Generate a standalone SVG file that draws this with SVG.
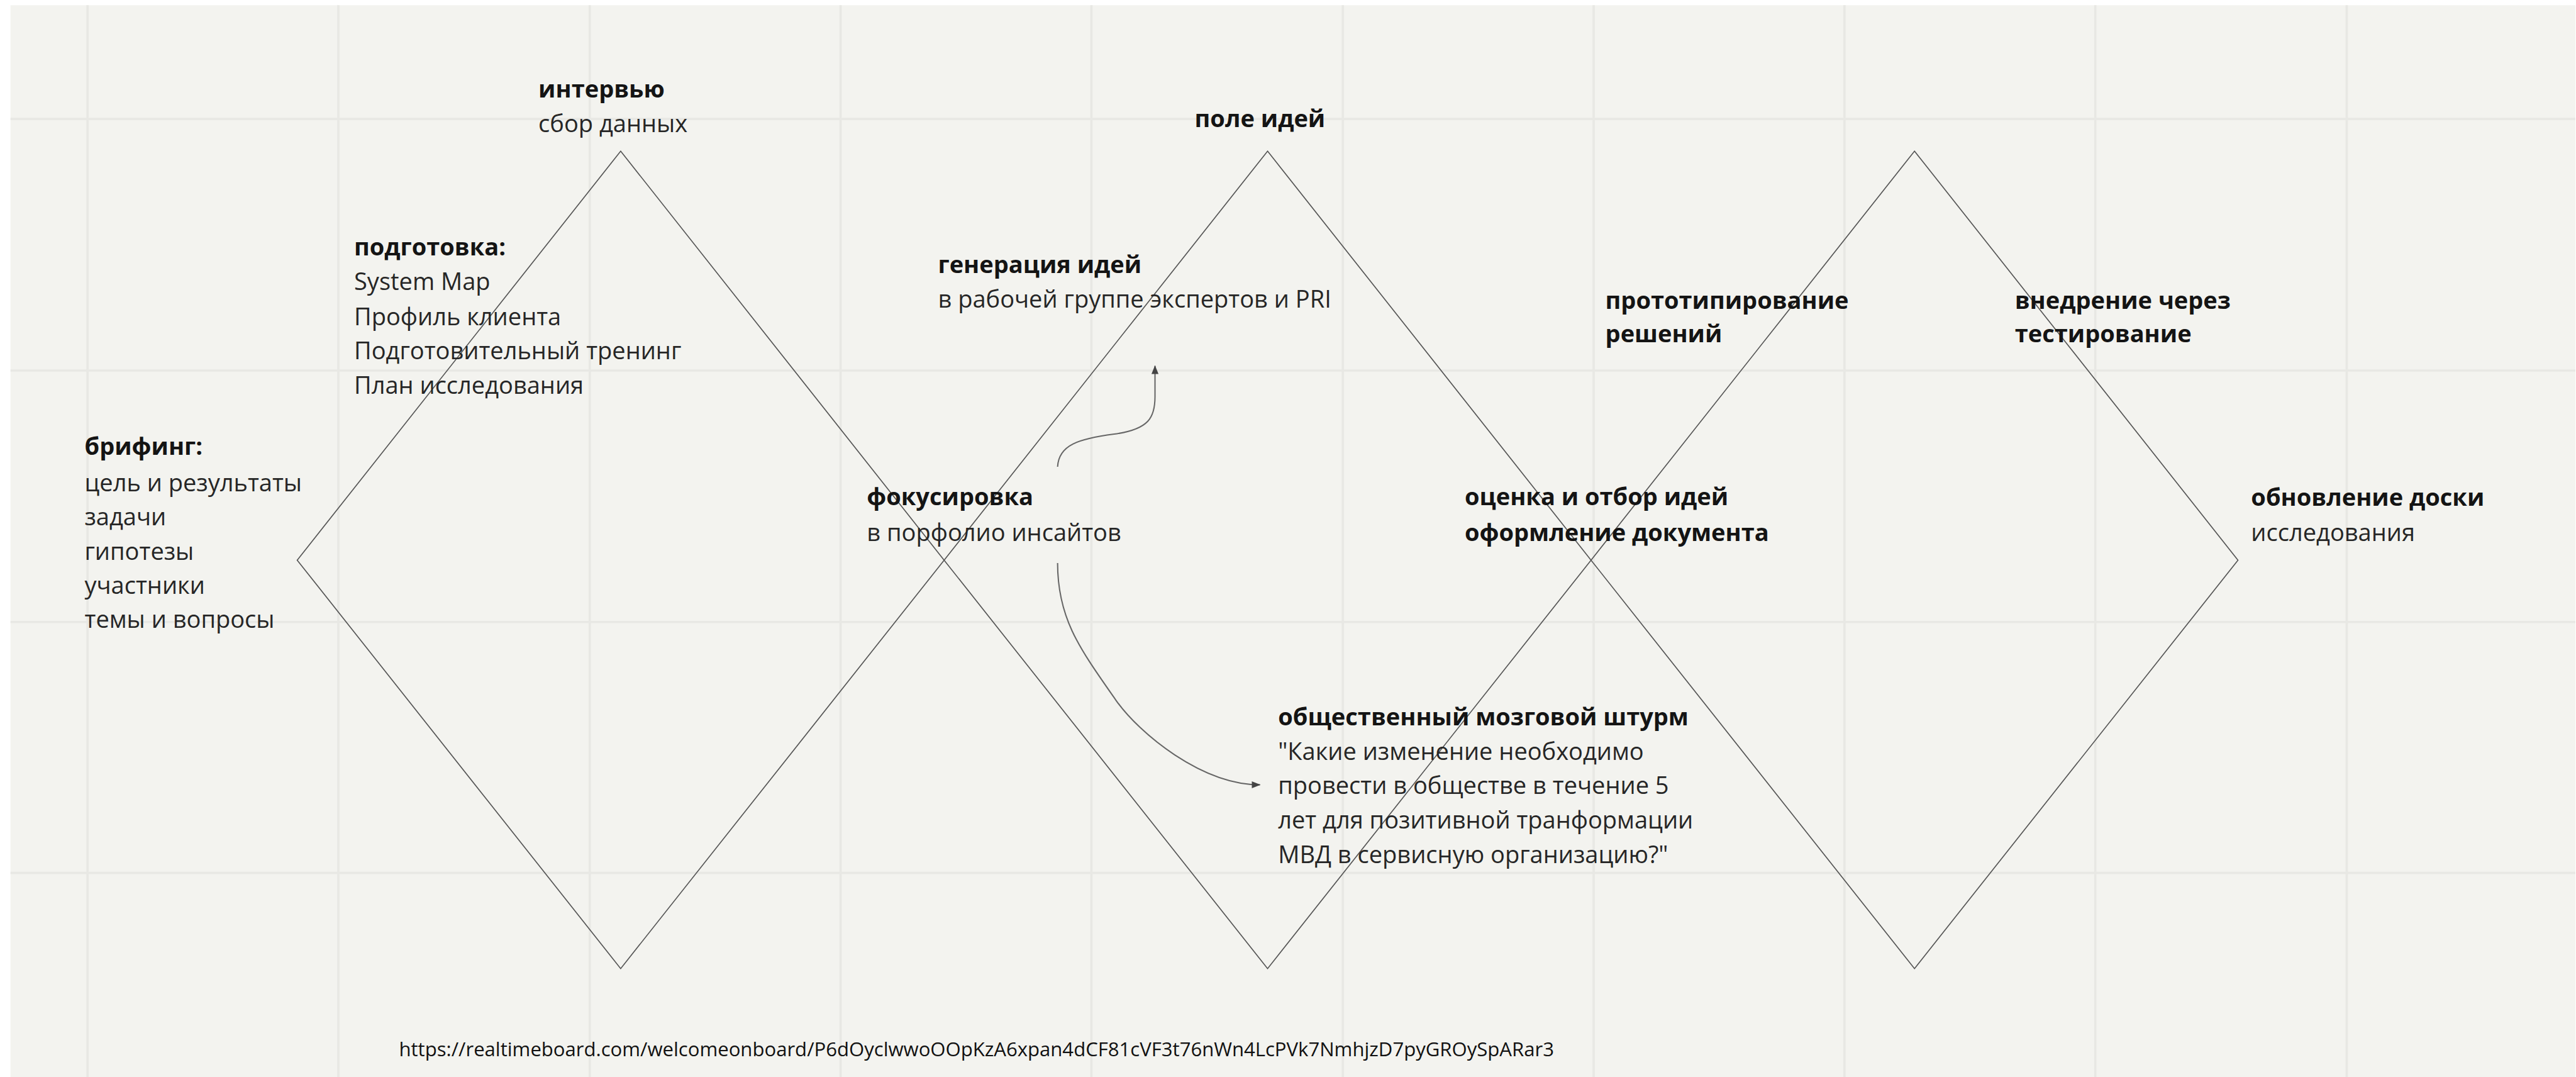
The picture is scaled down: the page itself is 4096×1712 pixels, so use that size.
<svg xmlns="http://www.w3.org/2000/svg" width="4096" height="1712" viewBox="0 0 4096 1712">
<defs>
<style>
.t{font-family:"Open Sans","Noto Sans","DejaVu Sans",sans-serif;font-size:41px;fill:#262626}
.b{font-weight:bold;fill:#141414}
.d{fill:none;stroke:#555;stroke-width:1.8}
.g{stroke:#e8e8e4;stroke-width:4}
.c{fill:none;stroke:#666;stroke-width:2.2}
.u{font-family:"Open Sans","Noto Sans","DejaVu Sans",sans-serif;font-size:33.6px;fill:#111}
</style>
<marker id="ah" markerUnits="userSpaceOnUse" markerWidth="16" markerHeight="16" viewBox="0 0 16 16" refX="14" refY="8" orient="auto">
<path d="M0,2 L15,8 L0,14 Z" fill="#444"/>
</marker>
</defs>
<rect width="4096" height="1712" fill="#ffffff"/>
<g transform="scale(0.927536)">
<rect x="18" y="9" width="4397" height="1837" fill="#f3f3ef"/>
<g id="grid">
<line class="g" x1="150" y1="9" x2="150" y2="1846"/>
<line class="g" x1="580" y1="9" x2="580" y2="1846"/>
<line class="g" x1="1011" y1="9" x2="1011" y2="1846"/>
<line class="g" x1="1441" y1="9" x2="1441" y2="1846"/>
<line class="g" x1="1871" y1="9" x2="1871" y2="1846"/>
<line class="g" x1="2302" y1="9" x2="2302" y2="1846"/>
<line class="g" x1="2732" y1="9" x2="2732" y2="1846"/>
<line class="g" x1="3162" y1="9" x2="3162" y2="1846"/>
<line class="g" x1="3592" y1="9" x2="3592" y2="1846"/>
<line class="g" x1="4023" y1="9" x2="4023" y2="1846"/>
<line class="g" x1="18" y1="204" x2="4415" y2="204"/>
<line class="g" x1="18" y1="635" x2="4415" y2="635"/>
<line class="g" x1="18" y1="1066" x2="4415" y2="1066"/>
<line class="g" x1="18" y1="1496" x2="4415" y2="1496"/>
</g>
<g id="diamond1"><polygon class="d" points="1064,259 1618.5,960 1064,1660 509.5,960"/></g>
<g id="diamond2"><polygon class="d" points="2173,259 2727.5,960 2173,1660 1618.5,960"/></g>
<g id="diamond3"><polygon class="d" points="3282,259 3836.5,960 3282,1660 2727.5,960"/></g>
<g id="connectors">
<path class="c" d="M1813,800 C1815,762 1850,752 1910,744 C1970,736 1980,715 1980,680 L1980,627" marker-end="url(#ah)"/>
<path class="c" d="M1813,965 C1813,1060 1850,1110 1913,1200 C1953,1257 2060,1345 2160,1345" marker-end="url(#ah)"/>
</g>
<g id="briefing">
<text class="t b" x="145" y="780">брифинг:</text>
<text class="t" x="145" y="842">цель и результаты</text>
<text class="t" x="145" y="900">задачи</text>
<text class="t" x="145" y="959">гипотезы</text>
<text class="t" x="145" y="1018">участники</text>
<text class="t" x="145" y="1076">темы и вопросы</text>
</g>
<g id="preparation">
<text class="t b" x="607" y="438">подготовка:</text>
<text class="t" x="607" y="497">System Map</text>
<text class="t" x="607" y="557">Профиль клиента</text>
<text class="t" x="607" y="616">Подготовительный тренинг</text>
<text class="t" x="607" y="675">План исследования</text>
</g>
<g id="interview">
<text class="t b" x="923" y="167">интервью</text>
<text class="t" x="923" y="226">сбор данных</text>
</g>
<g id="ideas-field">
<text class="t b" x="2048" y="218">поле идей</text>
</g>
<g id="idea-generation">
<text class="t b" x="1608" y="468">генерация идей</text>
<text class="t" x="1608" y="527">в рабочей группе экспертов и PRI</text>
</g>
<g id="focusing">
<text class="t b" x="1486" y="866">фокусировка</text>
<text class="t" x="1486" y="927">в порфолио инсайтов</text>
</g>
<g id="brainstorm">
<text class="t b" x="2191" y="1243">общественный мозговой штурм</text>
<text class="t" x="2191" y="1302">"Какие изменение необходимо</text>
<text class="t" x="2191" y="1361">провести в обществе в течение 5</text>
<text class="t" x="2191" y="1420">лет для позитивной транформации</text>
<text class="t" x="2191" y="1479">МВД в сервисную организацию?"</text>
</g>
<g id="prototyping">
<text class="t b" x="2752" y="529">прототипирование</text>
<text class="t b" x="2752" y="587">решений</text>
</g>
<g id="evaluation">
<text class="t b" x="2511" y="866">оценка и отбор идей</text>
<text class="t b" x="2511" y="927">оформление документа</text>
</g>
<g id="implementation">
<text class="t b" x="3454" y="529">внедрение через</text>
<text class="t b" x="3454" y="587">тестирование</text>
</g>
<g id="board-update">
<text class="t b" x="3859" y="867">обновление доски</text>
<text class="t" x="3859" y="927">исследования</text>
</g>
<g id="url">
<text class="u" x="684" y="1810" textLength="1980" lengthAdjust="spacingAndGlyphs">https://realtimeboard.com/welcomeonboard/P6dOyclwwoOOpKzA6xpan4dCF81cVF3t76nWn4LcPVk7NmhjzD7pyGROySpARar3</text>
</g>
</g>
</svg>
